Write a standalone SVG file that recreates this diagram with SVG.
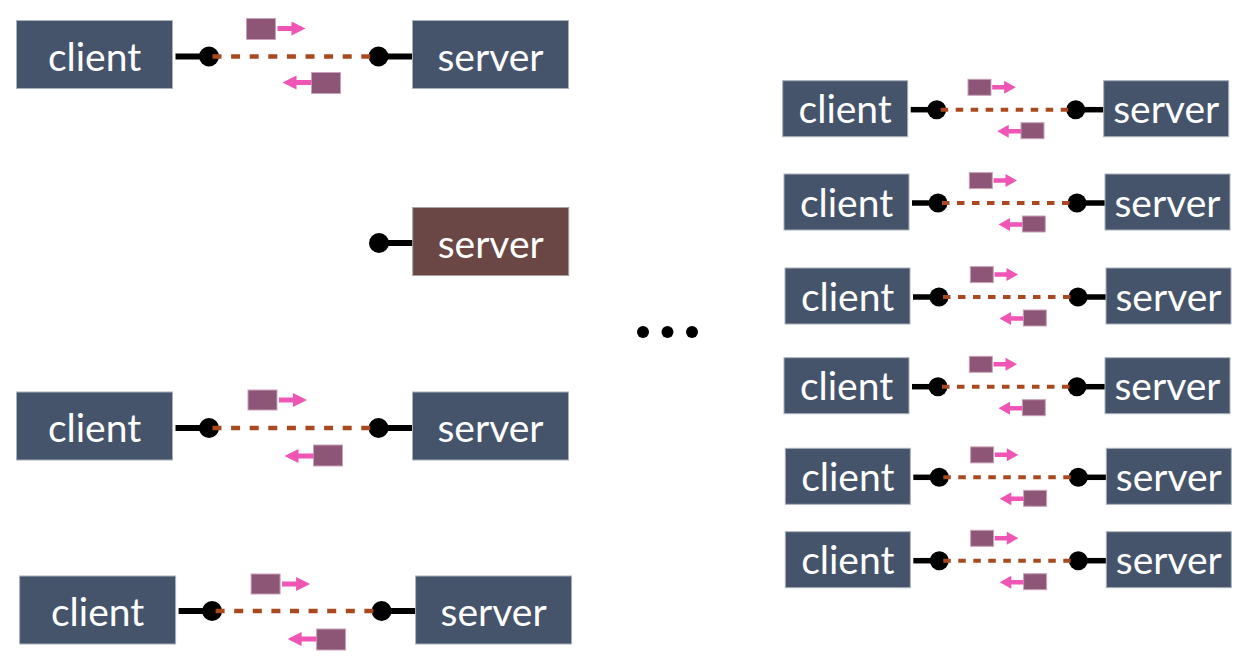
<svg xmlns="http://www.w3.org/2000/svg" width="1260" height="660" viewBox="0 0 1260 660">
<style>
.box{fill:#45546a;stroke:#a9b1bb;stroke-width:1}
.bbox{fill:#6a4744;stroke:#a9a0a0;stroke-width:1}
.lbl{font-family:Lato,"Liberation Sans",Arial,sans-serif;font-size:39px;fill:#fff;text-anchor:middle}
.wire{stroke:#000;stroke-width:6;fill:none}
.wire2{stroke:#000;stroke-width:5.5;fill:none}
.dot{fill:#000}
.dash{stroke:#a9491f;stroke-width:4.5;stroke-dasharray:9 9.6;fill:none}
.dash2{stroke:#a9491f;stroke-width:4;stroke-dasharray:7.5 7.5;fill:none}
.pkt{fill:#8d5676;stroke:#c9a3b8;stroke-width:1}
.arr{fill:#ee55b4}
</style>
<rect width="1260" height="660" fill="#fff"/>

<!-- connectors -->
<g id="connectors">
  <g transform="translate(16.5,20.5)">
    <line class="wire" x1="159" y1="36" x2="192.5" y2="36"/><circle class="dot" cx="192.5" cy="36" r="10"/>
    <line class="wire" x1="362" y1="36" x2="396" y2="36"/><circle class="dot" cx="362" cy="36" r="10"/>
    <line class="dash" x1="196" y1="36" x2="358" y2="36"/>
    <rect class="pkt" x="230" y="-2" width="29" height="21"/>
    <path class="arr" d="M261,5.5 H275 V1 L289,8 L275,15 V10.5 H261 Z"/>
    <rect class="pkt" x="295" y="52" width="29" height="21"/>
    <path class="arr" d="M295,59.5 H280 V55 L266,62 L280,69 V64.5 H295 Z"/>
  </g>
  <g transform="translate(16.5,392)">
    <line class="wire" x1="159" y1="36" x2="192.5" y2="36"/><circle class="dot" cx="192.5" cy="36" r="10"/>
    <line class="wire" x1="362" y1="36" x2="396" y2="36"/><circle class="dot" cx="362" cy="36" r="10"/>
    <line class="dash" x1="196" y1="36" x2="358" y2="36"/>
    <rect class="pkt" x="231.5" y="-2" width="29" height="20"/>
    <path class="arr" d="M262.5,5.5 H276.5 V1 L290.5,8 L276.5,15 V10.5 H262.5 Z"/>
    <rect class="pkt" x="297" y="53" width="29" height="21"/>
    <path class="arr" d="M297,61.5 H282 V57 L268,64 L282,71 V66.5 H297 Z"/>
  </g>
  <g transform="translate(19.6,576)">
    <line class="wire" x1="159" y1="35" x2="192.5" y2="35"/><circle class="dot" cx="192.5" cy="35" r="10"/>
    <line class="wire" x1="362" y1="35" x2="396" y2="35"/><circle class="dot" cx="362" cy="35" r="10"/>
    <line class="dash" x1="196" y1="35" x2="358" y2="35"/>
    <rect class="pkt" x="231.5" y="-2" width="29" height="20"/>
    <path class="arr" d="M262.5,5.5 H276.5 V1 L290.5,8 L276.5,15 V10.5 H262.5 Z"/>
    <rect class="pkt" x="297" y="53" width="29" height="21"/>
    <path class="arr" d="M297,60.5 H282 V56 L268,63 L282,70 V65.5 H297 Z"/>
  </g>
  <g>
    <line class="wire" x1="379" y1="243" x2="412.7" y2="243"/><circle class="dot" cx="379" cy="243" r="10"/>
  </g>
  <g transform="translate(782.7,80.7)">
    <line class="wire2" x1="128" y1="29" x2="154" y2="29"/><circle class="dot" cx="154" cy="29" r="9.5"/>
    <line class="wire2" x1="293" y1="29" x2="321" y2="29"/><circle class="dot" cx="293" cy="29" r="9.5"/>
    <line class="dash2" x1="158" y1="29" x2="291" y2="29"/>
    <rect class="pkt" x="185.3" y="-1.4" width="23" height="16"/>
    <path class="arr" d="M209.5,4.3 H221.5 V0 L233,6.5 L221.5,13 V8.7 H209.5 Z"/>
    <rect class="pkt" x="238.3" y="42" width="23" height="16"/>
    <path class="arr" d="M238.3,48.3 H226 V44 L214.5,50.5 L226,57 V52.7 H238.3 Z"/>
  </g>
  <g transform="translate(784,174)">
    <line class="wire2" x1="128" y1="29" x2="154" y2="29"/><circle class="dot" cx="154" cy="29" r="9.5"/>
    <line class="wire2" x1="293" y1="29" x2="321" y2="29"/><circle class="dot" cx="293" cy="29" r="9.5"/>
    <line class="dash2" x1="158" y1="29" x2="291" y2="29"/>
    <rect class="pkt" x="185.3" y="-1.4" width="23" height="16"/>
    <path class="arr" d="M209.5,4.3 H221.5 V0 L233,6.5 L221.5,13 V8.7 H209.5 Z"/>
    <rect class="pkt" x="238.3" y="42" width="23" height="16"/>
    <path class="arr" d="M238.3,48.3 H226 V44 L214.5,50.5 L226,57 V52.7 H238.3 Z"/>
  </g>
  <g transform="translate(785,268)">
    <line class="wire2" x1="128" y1="29" x2="154" y2="29"/><circle class="dot" cx="154" cy="29" r="9.5"/>
    <line class="wire2" x1="293" y1="29" x2="321" y2="29"/><circle class="dot" cx="293" cy="29" r="9.5"/>
    <line class="dash2" x1="158" y1="29" x2="291" y2="29"/>
    <rect class="pkt" x="185.3" y="-1.4" width="23" height="16"/>
    <path class="arr" d="M209.5,4.3 H221.5 V0 L233,6.5 L221.5,13 V8.7 H209.5 Z"/>
    <rect class="pkt" x="238.3" y="42" width="23" height="16"/>
    <path class="arr" d="M238.3,48.3 H226 V44 L214.5,50.5 L226,57 V52.7 H238.3 Z"/>
  </g>
  <g transform="translate(784,357.7)">
    <line class="wire2" x1="128" y1="29" x2="154" y2="29"/><circle class="dot" cx="154" cy="29" r="9.5"/>
    <line class="wire2" x1="293" y1="29" x2="321" y2="29"/><circle class="dot" cx="293" cy="29" r="9.5"/>
    <line class="dash2" x1="158" y1="29" x2="291" y2="29"/>
    <rect class="pkt" x="185.3" y="-1.4" width="23" height="16"/>
    <path class="arr" d="M209.5,4.3 H221.5 V0 L233,6.5 L221.5,13 V8.7 H209.5 Z"/>
    <rect class="pkt" x="238.3" y="42" width="23" height="16"/>
    <path class="arr" d="M238.3,48.3 H226 V44 L214.5,50.5 L226,57 V52.7 H238.3 Z"/>
  </g>
  <g transform="translate(785.3,448.3)">
    <line class="wire2" x1="128" y1="29" x2="154" y2="29"/><circle class="dot" cx="154" cy="29" r="9.5"/>
    <line class="wire2" x1="293" y1="29" x2="321" y2="29"/><circle class="dot" cx="293" cy="29" r="9.5"/>
    <line class="dash2" x1="158" y1="29" x2="291" y2="29"/>
    <rect class="pkt" x="185.3" y="-1.4" width="23" height="16"/>
    <path class="arr" d="M209.5,4.3 H221.5 V0 L233,6.5 L221.5,13 V8.7 H209.5 Z"/>
    <rect class="pkt" x="238.3" y="42" width="23" height="16"/>
    <path class="arr" d="M238.3,48.3 H226 V44 L214.5,50.5 L226,57 V52.7 H238.3 Z"/>
  </g>
  <g transform="translate(785.3,531.7)">
    <line class="wire2" x1="128" y1="29" x2="154" y2="29"/><circle class="dot" cx="154" cy="29" r="9.5"/>
    <line class="wire2" x1="293" y1="29" x2="321" y2="29"/><circle class="dot" cx="293" cy="29" r="9.5"/>
    <line class="dash2" x1="158" y1="29" x2="291" y2="29"/>
    <rect class="pkt" x="185.3" y="-1.4" width="23" height="16"/>
    <path class="arr" d="M209.5,4.3 H221.5 V0 L233,6.5 L221.5,13 V8.7 H209.5 Z"/>
    <rect class="pkt" x="238.3" y="42" width="23" height="16"/>
    <path class="arr" d="M238.3,48.3 H226 V44 L214.5,50.5 L226,57 V52.7 H238.3 Z"/>
  </g>
</g>

<!-- left column nodes -->
<g id="client-1" transform="translate(16.5,20.5)"><rect class="box" width="156" height="68"/><text class="lbl" x="78" y="50">client</text></g>
<g id="server-1" transform="translate(412.5,20.5)"><rect class="box" width="156" height="68"/><text class="lbl" x="78" y="50">server</text></g>
<g id="server-2" transform="translate(412.7,207.5)"><rect class="bbox" width="156" height="68"/><text class="lbl" x="78" y="50">server</text></g>
<g id="client-3" transform="translate(16.5,392)"><rect class="box" width="156" height="68"/><text class="lbl" x="78" y="50">client</text></g>
<g id="server-3" transform="translate(412.5,392)"><rect class="box" width="156" height="68"/><text class="lbl" x="78" y="50">server</text></g>
<g id="client-4" transform="translate(19.6,576)"><rect class="box" width="156" height="68"/><text class="lbl" x="78" y="50">client</text></g>
<g id="server-4" transform="translate(415.6,576)"><rect class="box" width="156" height="68"/><text class="lbl" x="78" y="50">server</text></g>

<!-- ellipsis -->
<g id="ellipsis">
  <circle class="dot" cx="643" cy="332" r="6"/>
  <circle class="dot" cx="667.5" cy="332" r="6"/>
  <circle class="dot" cx="692" cy="332" r="6"/>
</g>

<!-- right column nodes -->
<g id="client-r1" transform="translate(782.7,80.7)"><rect class="box" width="125" height="56"/><text class="lbl" x="62.5" y="42.5">client</text></g>
<g id="server-r1" transform="translate(1103.7,80.7)"><rect class="box" width="125" height="56"/><text class="lbl" x="62.5" y="42.5">server</text></g>
<g id="client-r2" transform="translate(784,174)"><rect class="box" width="125" height="56"/><text class="lbl" x="62.5" y="42.5">client</text></g>
<g id="server-r2" transform="translate(1105,174)"><rect class="box" width="125" height="56"/><text class="lbl" x="62.5" y="42.5">server</text></g>
<g id="client-r3" transform="translate(785,268)"><rect class="box" width="125" height="56"/><text class="lbl" x="62.5" y="42.5">client</text></g>
<g id="server-r3" transform="translate(1106,268)"><rect class="box" width="125" height="56"/><text class="lbl" x="62.5" y="42.5">server</text></g>
<g id="client-r4" transform="translate(784,357.7)"><rect class="box" width="125" height="56"/><text class="lbl" x="62.5" y="42.5">client</text></g>
<g id="server-r4" transform="translate(1105,357.7)"><rect class="box" width="125" height="56"/><text class="lbl" x="62.5" y="42.5">server</text></g>
<g id="client-r5" transform="translate(785.3,448.3)"><rect class="box" width="125" height="56"/><text class="lbl" x="62.5" y="42.5">client</text></g>
<g id="server-r5" transform="translate(1106.3,448.3)"><rect class="box" width="125" height="56"/><text class="lbl" x="62.5" y="42.5">server</text></g>
<g id="client-r6" transform="translate(785.3,531.7)"><rect class="box" width="125" height="56"/><text class="lbl" x="62.5" y="42.5">client</text></g>
<g id="server-r6" transform="translate(1106.3,531.7)"><rect class="box" width="125" height="56"/><text class="lbl" x="62.5" y="42.5">server</text></g>
</svg>
